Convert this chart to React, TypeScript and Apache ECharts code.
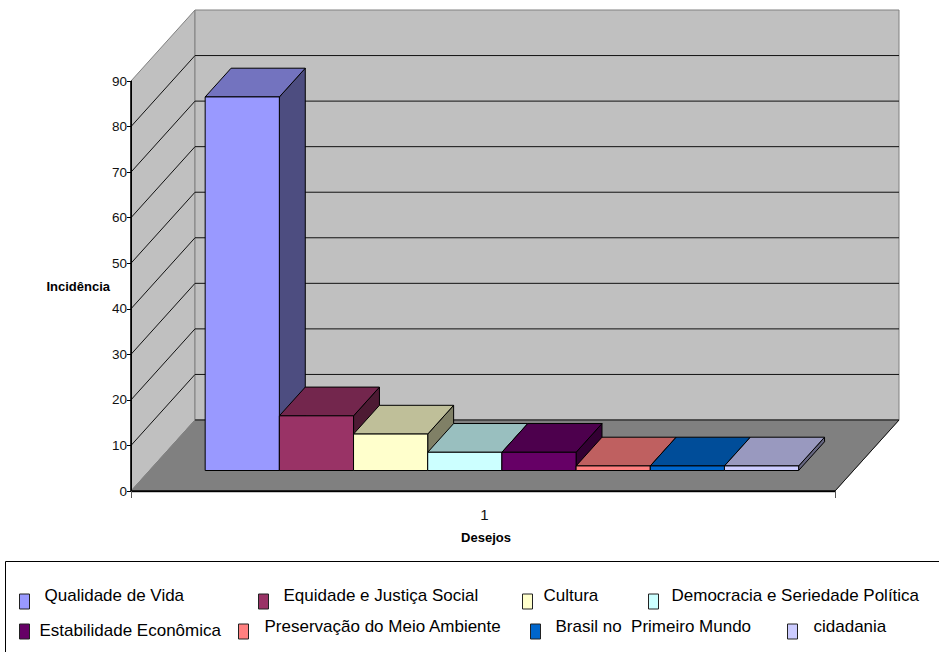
import React, { useEffect, useRef } from "react";
import * as echarts from "echarts";

const categories = ["1"];
const seriesNames = [
  "Qualidade de Vida",
  "Equidade e Justiça Social",
  "Cultura",
  "Democracia e Seriedade Política",
  "Estabilidade Econômica",
  "Preservação do Meio Ambiente",
  "Brasil no  Primeiro Mundo",
  "cidadania",
];
const seriesValues = [82, 12, 8, 4, 4, 1, 1, 1];
const seriesColors = [
  [153, 153, 255],
  [153, 51, 102],
  [255, 255, 204],
  [204, 255, 255],
  [102, 0, 102],
  [255, 128, 128],
  [0, 102, 204],
  [204, 204, 255],
];
const valueTicks = [10, 20, 30, 40, 50, 60, 70, 80];
const axisMax = 90;

// Legend entries sit at hand-placed spots: [iconLeft, iconTop, gapToText, textLift]
const legendSpots = [
  [19, 593, 15, 6],
  [258, 593, 15, 6],
  [522, 593, 11, 6],
  [648, 593, 13, 6],
  [19, 623, 10, 1],
  [238, 623, 16, 5],
  [530, 623, 15, 5],
  [787, 623, 16, 5],
];

const FONT = "Liberation Sans";
// Projection of the chart's depth: shift of the back wall from the front plane.
const DEPTH_X = 64;
const DEPTH_Y = 71;
// Bars stand part-way into the floor and take up part of its depth.
const BAR_SHIFT_X = 18.9;
const BAR_SHIFT_Y = 20.5;
const BAR_DEPTH = 0.405;
const GAP_WIDTH = 1.49;

const rgb = (c: number[], k = 1) =>
  `rgb(${Math.round(c[0] * k)},${Math.round(c[1] * k)},${Math.round(c[2] * k)})`;

const poly = (points: number[][], fill: string, stroke: string, z2 = 0) => ({
  type: "polygon",
  z2,
  shape: { points },
  style: { fill, stroke, lineWidth: 1, lineJoin: "round" },
});

const line = (a: number[], b: number[], stroke: string, lineWidth = 1, z2 = 1) => ({
  type: "line",
  z2,
  shape: { x1: a[0], y1: a[1], x2: b[0], y2: b[1] },
  style: { stroke, lineWidth },
});

function renderWalls(params: any, api: any) {
  const cs = params.coordSys;
  const x0 = cs.x;
  const x1 = cs.x + cs.width;
  const y0 = api.coord([0, 0])[1];
  const yT = api.coord([0, axisMax])[1];
  return {
    type: "group",
    children: [
      poly([[x0, y0], [x0, yT], [x0 + DEPTH_X, yT - DEPTH_Y], [x0 + DEPTH_X, y0 - DEPTH_Y]], "#c0c0c0", "#808080"),
      poly([[x0 + DEPTH_X, yT - DEPTH_Y], [x1 + DEPTH_X, yT - DEPTH_Y], [x1 + DEPTH_X, y0 - DEPTH_Y], [x0 + DEPTH_X, y0 - DEPTH_Y]], "#c0c0c0", "#808080"),
      poly([[x0, y0], [x1, y0], [x1 + DEPTH_X, y0 - DEPTH_Y], [x0 + DEPTH_X, y0 - DEPTH_Y]], "#808080", "#808080"),
      line([x0 + DEPTH_X, y0 - DEPTH_Y], [x1 + DEPTH_X, y0 - DEPTH_Y], "#111"),
      line([x1, y0], [x1 + DEPTH_X, y0 - DEPTH_Y], "#111"),
      line([x0, y0 + 1.5], [x1, y0 + 1.5], "#c8c8c8"),
      // Front edges of the plot, heavier than the wall and floor outlines.
      line([x0, yT], [x0, y0], "#000", 1.5, 3),
      line([x0, y0], [x1, y0], "#000", 1.5, 3),
    ],
  };
}

function renderGridLine(params: any, api: any) {
  const cs = params.coordSys;
  const y = api.coord([0, api.value(1)])[1];
  return {
    type: "group",
    children: [
      line([cs.x, y], [cs.x + DEPTH_X, y - DEPTH_Y], "#111"),
      line([cs.x + DEPTH_X, y - DEPTH_Y], [cs.x + cs.width + DEPTH_X, y - DEPTH_Y], "#111"),
    ],
  };
}

// One clustered 3D column: front face, top face, right-hand face.
const renderBar = (index: number) => (params: any, api: any) => {
  const bandWidth = params.coordSys.width;
  const count = seriesValues.length;
  const w = bandWidth / (count + GAP_WIDTH);
  const center = api.coord([0, 0])[0];
  const dx = DEPTH_X * BAR_DEPTH;
  const dy = DEPTH_Y * BAR_DEPTH;
  const left = center + BAR_SHIFT_X + (index - count / 2) * w;
  const right = left + w;
  const bottom = api.coord([0, 0])[1] - BAR_SHIFT_Y;
  const top = api.coord([0, api.value(1)])[1] - BAR_SHIFT_Y;
  const c = seriesColors[index];
  return {
    type: "group",
    children: [
      poly([[right, bottom], [right, top], [right + dx, top - dy], [right + dx, bottom - dy]], rgb(c, 0.5), "#000"),
      poly([[left, top], [right, top], [right + dx, top - dy], [left + dx, top - dy]], rgb(c, 0.75), "#000"),
      poly([[left, bottom], [right, bottom], [right, top], [left, top]], rgb(c), "#000"),
    ],
  };
};

export default function App() {
  const ref = useRef<HTMLDivElement>(null);

  useEffect(() => {
    if (!ref.current) return;
    const chart = echarts.init(ref.current, undefined, { renderer: "svg" });

    chart.setOption({
      animation: false,
      backgroundColor: "#ffffff",
      textStyle: { fontFamily: FONT },
      grid: { left: 131, top: 81, width: 704, height: 410, containLabel: false },
      xAxis: {
        type: "category",
        data: categories,
        axisLine: { show: true, lineStyle: { color: "#000", width: 1 } },
        axisTick: { show: true, length: 7, lineStyle: { color: "#555" } },
        axisLabel: { color: "#111", fontSize: 15, fontFamily: FONT, margin: 16, padding: [0, 0, 0, 3] },
        name: "Desejos",
        nameLocation: "middle",
        nameGap: 40,
        nameTextStyle: { color: "#000", fontSize: 13, fontWeight: "bold", fontFamily: FONT, padding: [0, 0, 0, 6] },
      },
      yAxis: {
        type: "value",
        min: 0,
        max: axisMax,
        interval: 10,
        splitLine: { show: false },
        axisLine: { show: true, lineStyle: { color: "#000", width: 1 } },
        axisTick: { show: true, length: 4, lineStyle: { color: "#000" } },
        axisLabel: { color: "#111", fontSize: 13.5, fontFamily: FONT, margin: 4 },
        name: "Incidência",
        nameLocation: "middle",
        nameRotate: 0,
        nameGap: 21,
        nameMoveOverlap: false,
        nameTextStyle: { color: "#000", fontSize: 13, fontWeight: "bold", fontFamily: FONT },
      },
      legend: seriesNames.map((name, i) => ({
        data: [{ name, icon: "rect" }],
        left: legendSpots[i][0],
        top: legendSpots[i][1] - legendSpots[i][3],
        padding: 0,
        itemWidth: 10,
        itemHeight: 15,
        selectedMode: false,
        itemStyle: { color: rgb(seriesColors[i]), borderColor: "#222", borderWidth: 1 },
        formatter: "{t|{name}}",
        textStyle: {
          color: "#000",
          fontSize: 17,
          fontFamily: FONT,
          rich: {
            t: {
              color: "#000",
              fontSize: 17,
              fontFamily: FONT,
              padding: [0, 0, legendSpots[i][3] * 2, legendSpots[i][2] - 5],
            },
          },
        },
      })),
      graphic: [
        {
          type: "rect",
          shape: { x: 5.5, y: 561.5, width: 1000, height: 200 },
          style: { fill: "none", stroke: "#000", lineWidth: 1 },
        },
      ],
      series: [
        {
          type: "custom",
          name: "walls",
          z: -2,
          clip: false,
          silent: true,
          data: [[0, 0]],
          encode: { x: 0, y: 1 },
          renderItem: renderWalls,
        },
        {
          type: "custom",
          name: "gridlines",
          z: -1,
          clip: false,
          silent: true,
          data: valueTicks.map((v) => [0, v]),
          encode: { x: 0, y: 1 },
          renderItem: renderGridLine,
        },
        ...seriesNames.map((name, i) => ({
          type: "custom",
          name,
          z: 3,
          clip: false,
          itemStyle: { color: rgb(seriesColors[i]) },
          data: [[0, seriesValues[i]]],
          encode: { x: 0, y: 1 },
          renderItem: renderBar(i),
        })),
      ],
    });

    return () => chart.dispose();
  }, []);

  return (
    <div
      ref={ref}
      style={{ position: "fixed", left: 0, top: 0, width: 939, height: 652 }}
    />
  );
}
